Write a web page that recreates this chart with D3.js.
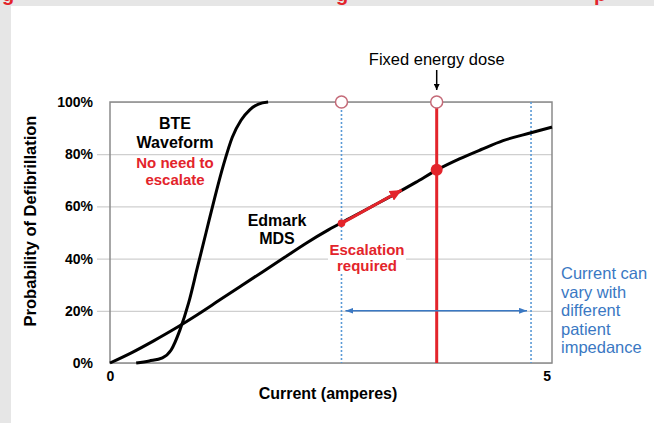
<!DOCTYPE html>
<html>
<head>
<meta charset="utf-8">
<script src="https://cdn.jsdelivr.net/npm/d3@7"></script>
<style>
  html, body { margin: 0; padding: 0; background: #e6e6e6; }
  svg { display: block; }
  text { font-family: Arial, 'Liberation Sans', sans-serif; }
</style>
</head>
<body>
<svg id="chart" width="654" height="423"></svg>
<script>
// Data
const yTicks = [0, 20, 40, 60, 80, 100];
const xTicks = [0, 5];

// Edmark MDS curve: current (A) -> probability (%)
const edmarkX = [0, 0.25, 0.5, 0.75, 1, 1.25, 1.5, 1.75, 2, 2.25, 2.5, 2.75, 3, 3.25, 3.5, 3.75, 4, 4.25, 4.5, 4.82, 5.06];
const edmarkY = [0, 4, 8.5, 13.3, 18.5, 24, 29.5, 35, 40.5, 46, 51, 55.5, 60, 64.5, 69.2, 74.1, 78.2, 81.8, 85.2, 88.2, 90.4];

// BTE waveform curve
const bteX = [0.3, 0.45, 0.6, 0.7, 0.8, 0.9, 1.0, 1.1, 1.2, 1.3, 1.4, 1.5, 1.6, 1.7, 1.81];
const bteY = [0, 0.8, 2, 5, 12.6, 23, 36.5, 50, 63.5, 76, 86.5, 93, 97, 99.2, 100];

// marker currents: low / high impedance range and fixed energy dose
const rangeLow = 2.65;
const rangeHigh = 4.82;
const fixedDose = 3.74;
const escalateFrom = [2.65, 53.5];
const escalateTo = [3.34, 66.3];
const doseHit = [3.74, 74];
const impedanceArrowY = 20;

const svg = d3.select('#chart');
const W = +svg.attr('width');
const H = +svg.attr('height');

const RED = '#e3242b';
const BLUE = '#3a78c3';

// page background: gray strip on top/left, white panel
svg.append('rect').attr('width', W).attr('height', H).attr('fill', '#e6e6e6');

// title fragments cut off at the top edge
const clip = svg.append('clipPath').attr('id', 'topclip');
clip.append('rect').attr('x', 0).attr('y', 0).attr('width', W).attr('height', 6);
const titleG = svg.append('g').attr('clip-path', 'url(#topclip)');
[['g', 2], ['g', 336], ['p', 594]].forEach(d => {
    titleG.append('text').attr('x', d[1]).attr('y', 1)
        .attr('font-size', 20).attr('font-weight', 'bold').attr('fill', RED).text(d[0]);
});

svg.append('rect').attr('x', 11).attr('y', 6).attr('width', W - 11).attr('height', H - 6).attr('fill', '#fff');

const x = d3.scaleLinear().domain([0, 5.06]).range([110, 552]);
const y = d3.scaleLinear().domain([0, 100]).range([363, 102]);

// arrow markers
const defs = svg.append('defs');
function marker(id, color, len, wid, orient) {
    defs.append('marker')
        .attr('id', id)
        .attr('viewBox', `0 0 ${len} ${wid}`)
        .attr('refX', len).attr('refY', wid / 2)
        .attr('markerWidth', len).attr('markerHeight', wid)
        .attr('markerUnits', 'userSpaceOnUse')
        .attr('orient', orient)
        .append('path')
        .attr('d', `M0,0L${len},${wid / 2}L0,${wid}Z`)
        .attr('fill', color);
}
marker('redHead', RED, 12, 11, 'auto');
marker('blueHead', BLUE, 8, 6, 'auto-start-reverse');
marker('blackHead', '#000', 6, 6, 'auto');

// y axis with gridlines (drawn from the right edge leftwards)
const yAxis = svg.append('g')
    .attr('transform', `translate(${x.range()[1]},0)`)
    .call(d3.axisLeft(y).tickValues(yTicks).tickFormat(d => d + '%')
        .tickSize(x.range()[1] - 97).tickPadding(4));
yAxis.select('.domain').remove();
yAxis.selectAll('.tick line').attr('stroke', '#cfcfcf').attr('stroke-width', 1.2);
yAxis.selectAll('.tick line').filter(d => d === 0 || d === 100)
    .attr('x2', x.range()[0] - x.range()[1]);
yAxis.selectAll('.tick text')
    .attr('font-size', 14).attr('font-weight', 'bold').attr('fill', '#000')
    .attr('font-family', "Arial, 'Liberation Sans', sans-serif");

// x axis labels
const xAxis = svg.append('g')
    .attr('transform', `translate(0,${y(0)})`)
    .call(d3.axisBottom(x).tickValues(xTicks).tickFormat(d3.format('d'))
        .tickSize(0).tickPadding(8));
xAxis.select('.domain').remove();
xAxis.selectAll('.tick text')
    .attr('font-size', 14).attr('font-weight', 'bold').attr('fill', '#000')
    .attr('font-family', "Arial, 'Liberation Sans', sans-serif");

// plot border
svg.append('rect')
    .attr('x', x(0)).attr('y', y(100))
    .attr('width', x.range()[1] - x(0)).attr('height', y(0) - y(100))
    .attr('fill', 'none').attr('stroke', '#8a8a8a').attr('stroke-width', 1.5);

// blue dotted range lines
svg.selectAll('line.range')
    .data([rangeLow, rangeHigh])
    .enter().append('line')
    .attr('class', 'range')
    .attr('x1', d => x(d)).attr('x2', d => x(d))
    .attr('y1', y(100)).attr('y2', y(0))
    .attr('stroke', '#5a9ad6').attr('stroke-width', 1.6)
    .attr('stroke-dasharray', '2,2');

// white box behind the "Escalation required" note hides the lines under it
svg.append('rect')
    .attr('x', 328).attr('y', 241).attr('width', 78).attr('height', 32)
    .attr('fill', '#fff');

// curves
const line = d3.line()
    .x(d => x(d[0]))
    .y(d => y(d[1]))
    .curve(d3.curveMonotoneX);

svg.append('path')
    .datum(d3.zip(bteX, bteY))
    .attr('d', line)
    .attr('fill', 'none').attr('stroke', '#000').attr('stroke-width', 3);

svg.append('path')
    .datum(d3.zip(edmarkX, edmarkY))
    .attr('d', line)
    .attr('fill', 'none').attr('stroke', '#000').attr('stroke-width', 3);

// fixed energy dose line
svg.append('line')
    .attr('x1', x(fixedDose)).attr('x2', x(fixedDose))
    .attr('y1', y(100)).attr('y2', y(0))
    .attr('stroke', RED).attr('stroke-width', 3);

// escalation arrow
svg.append('line')
    .attr('x1', x(escalateFrom[0])).attr('y1', y(escalateFrom[1]))
    .attr('x2', x(escalateTo[0])).attr('y2', y(escalateTo[1]))
    .attr('stroke', RED).attr('stroke-width', 3)
    .attr('marker-end', 'url(#redHead)');
svg.append('circle')
    .attr('cx', x(escalateFrom[0])).attr('cy', y(escalateFrom[1]))
    .attr('r', 3.8).attr('fill', RED);
svg.append('circle')
    .attr('cx', x(doseHit[0])).attr('cy', y(doseHit[1]))
    .attr('r', 6).attr('fill', RED);

// open circles on the top edge
svg.selectAll('circle.top')
    .data([rangeLow, fixedDose])
    .enter().append('circle')
    .attr('class', 'top')
    .attr('cx', d => x(d)).attr('cy', y(100))
    .attr('r', 6)
    .attr('fill', '#fff').attr('stroke', '#c46a78').attr('stroke-width', 1.5);

// impedance range arrow
svg.append('line')
    .attr('x1', x(rangeLow) + 4).attr('x2', x(rangeHigh) - 4)
    .attr('y1', y(impedanceArrowY)).attr('y2', y(impedanceArrowY))
    .attr('stroke', BLUE).attr('stroke-width', 1.5)
    .attr('marker-start', 'url(#blueHead)')
    .attr('marker-end', 'url(#blueHead)');

// "Fixed energy dose" pointer
svg.append('line')
    .attr('x1', x(fixedDose)).attr('x2', x(fixedDose))
    .attr('y1', 70).attr('y2', 90)
    .attr('stroke', '#000').attr('stroke-width', 1.5)
    .attr('marker-end', 'url(#blackHead)');

// text labels
function label(lines, px, py, opts) {
    const t = svg.append('text')
        .attr('x', px).attr('y', py)
        .attr('text-anchor', opts.anchor || 'middle')
        .attr('font-size', opts.size)
        .attr('font-weight', opts.weight || 'normal')
        .attr('fill', opts.color || '#000');
    lines.forEach((s, i) => {
        t.append('tspan').attr('x', px).attr('dy', i === 0 ? 0 : opts.lh).text(s);
    });
    return t;
}

label(['Fixed energy dose'], x(fixedDose), 65, { size: 16.5 });
label(['BTE', 'Waveform'], 175, 129, { size: 16, weight: 'bold', lh: 19 });
label(['No need to', 'escalate'], 175, 168, { size: 15, weight: 'bold', color: RED, lh: 17 });
label(['Edmark', 'MDS'], 277, 226, { size: 16, weight: 'bold', lh: 18 });
label(['Escalation', 'required'], 367, 255, { size: 15, weight: 'bold', color: RED, lh: 16 });
label(['Current can', 'vary with', 'different', 'patient', 'impedance'], 561, 279,
    { size: 16.5, color: BLUE, anchor: 'start', lh: 18.5 });

label(['Current (amperes)'], 328, 399, { size: 16, weight: 'bold' });

svg.append('text')
    .attr('transform', 'translate(36,221) rotate(-90)')
    .attr('text-anchor', 'middle')
    .attr('font-size', 16.5).attr('font-weight', 'bold')
    .text('Probability of Defibrillation');
</script>
</body>
</html>
